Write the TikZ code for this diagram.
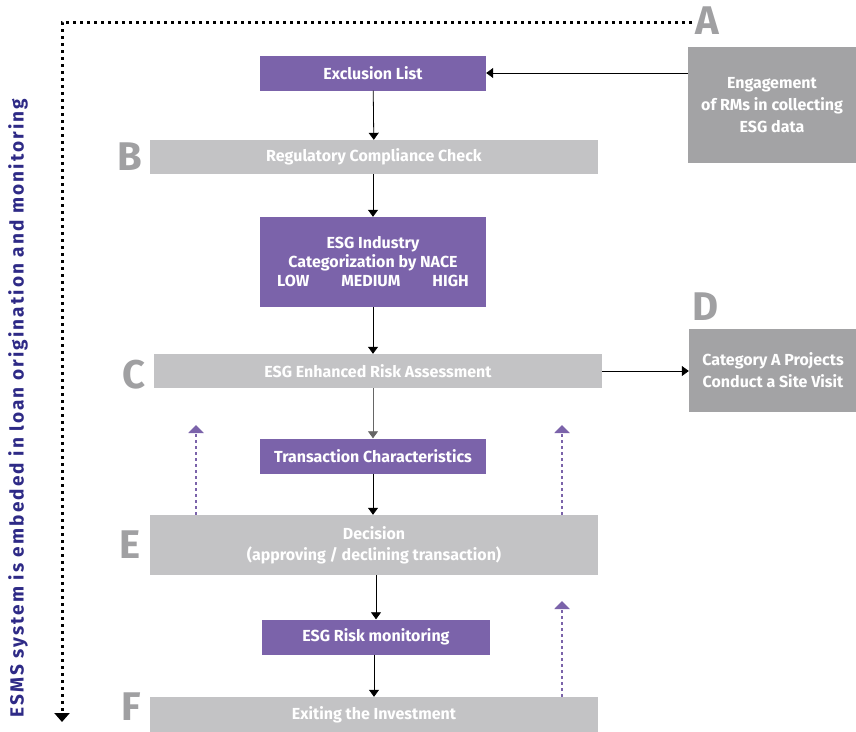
\documentclass[tikz,border=0pt]{standalone}
\usepackage{fontspec}
\setmainfont{Fira Sans}
\usetikzlibrary{arrows.meta}
\definecolor{esgpurple}{HTML}{7B63AA}
\definecolor{lightbox}{HTML}{C3C3C5}
\definecolor{darkbox}{HTML}{A3A3A5}
\definecolor{letter}{HTML}{A0A0A2}
\definecolor{sidetext}{HTML}{2E2A86}
\begin{document}
\begin{tikzpicture}[
		x=1pt, y=-1pt,
		>={Triangle[length=7pt,width=10pt]},
		purplebox/.style={rectangle,fill=esgpurple,text=white,font=\bfseries\fontsize{16}{19}\selectfont,
				minimum width=226pt,minimum height=35pt,align=center,inner sep=0pt},
		graybox/.style={rectangle,fill=lightbox,text=white,font=\bfseries\fontsize{16}{21}\selectfont,
				minimum width=448pt,minimum height=34pt,align=center,inner sep=0pt},
		sidebox/.style={rectangle,fill=darkbox,text=white,font=\bfseries\fontsize{16}{22}\selectfont,
				minimum width=168pt,align=center,inner sep=0pt},
		steplabel/.style={text=letter,font=\bfseries\fontsize{40}{40}\selectfont,inner sep=0pt},
		flow/.style={->,thick},
		feedback/.style={->,esgpurple,line width=2.6pt,dash pattern=on 2.6pt off 3.4pt,
				>={Triangle[length=8pt,width=15pt]}}
	]
	\useasboundingbox (0,0) rectangle (856,731);

	% main column
	\node[purplebox] (excl) at (373,73) {Exclusion List};
	\node[graybox] (regul) at (374,157) {Regulatory Compliance Check};
	\node[purplebox,minimum height=90pt] (nace) at (373,262) {ESG Industry\\Categorization by NACE\\LOW\hspace{32pt}MEDIUM\hspace{32pt}HIGH};
	\node[graybox] (enh) at (378,371) {ESG Enhanced Risk Assessment};
	\node[purplebox] (trans) at (373,456) {Transaction Characteristics};
	\node[graybox,minimum height=60pt] (decis) at (374,545) {Decision\\(approving / declining transaction)};
	\node[purplebox,minimum width=228pt] (monit) at (376,637) {ESG Risk monitoring};
	\node[graybox,minimum height=36pt] (exit) at (374,715) {Exiting the Investment};

	% side boxes
	\node[sidebox,minimum height=116pt] (engage) at (772,105) {Engagement\\of RMs in collecting\\ESG data};
	\node[sidebox,minimum height=83pt] (site) at (773,370) {Category A Projects\\Conduct a Site Visit};

	% letters
	\node[steplabel] (la) at (707,21) {A};
	\node[steplabel] (lb) at (130,157) {B};
	\node[steplabel] (lc) at (134,375) {C};
	\node[steplabel] (ld) at (706,307) {D};
	\node[steplabel] (le) at (130,545) {E};
	\node[steplabel] (lf) at (131,707) {F};

	% arrows
	\draw[flow] (engage.west |- excl.east) -- (excl.east);
	\draw[flow] (excl) -- (regul);
	\draw[flow] (regul.south -| nace.north) -- (nace.north);
	\draw[flow] (nace.south) -- (enh.north -| nace.south);
	\draw[flow] (enh.east) -- (site.west |- enh.east);
	\draw[flow,black!60] (enh.south -| trans.north) -- (trans.north);
	\draw[flow] (trans.south) -- (decis.north -| trans.south);
	\draw[flow] (decis.south -| monit.north) -- (monit.north);
	\draw[flow] (monit.south -| exit.north) -- (exit.north);

	% feedback loops
	\coordinate (up1) at (196,425);
	\coordinate (up2) at (562,425);
	\coordinate (up3) at (562,601);
	\draw[feedback] (decis.north -| up1) -- (up1);
	\draw[feedback] (decis.north -| up2) -- (up2);
	\draw[feedback] (exit.north -| up3) -- (up3);

	% outer dotted frame
	\coordinate (fr) at (692,22);
	\coordinate (fc) at (62,22);
	\coordinate (fe) at (62,722);
	\draw[line width=3pt,dash pattern=on 3pt off 4pt,-{Triangle[length=9pt,width=15pt]}] (fr) -- (fc) -- (fe);
	\node[rotate=90,text=sidetext,font=\bfseries\fontsize{19}{19}\selectfont\addfontfeature{LetterSpace=11}] (side) at (18,408)
		{ESMS system is embeded in loan origination and monitoring};
\end{tikzpicture}
\end{document}
